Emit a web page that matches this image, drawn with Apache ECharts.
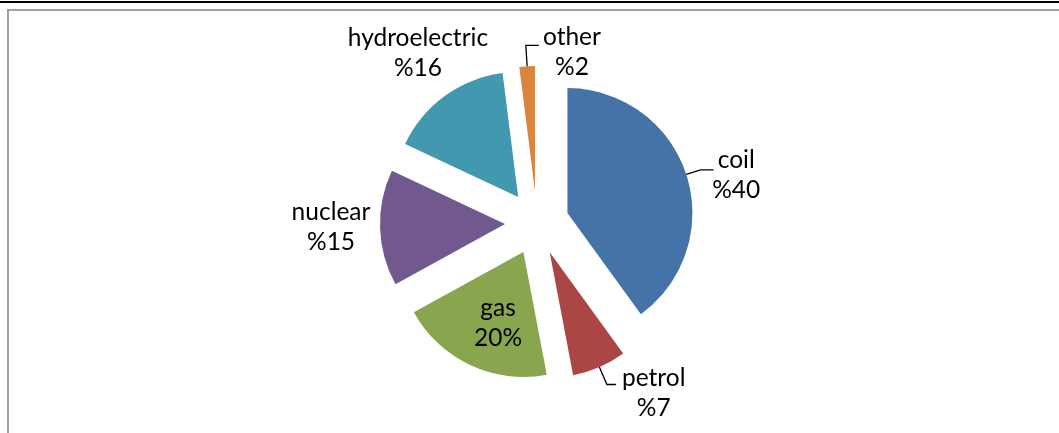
<!DOCTYPE html>
<html>
<head>
<meta charset="utf-8">
<script src="https://cdn.jsdelivr.net/npm/echarts@6/dist/echarts.min.js"></script>
<style>
  html, body { margin: 0; padding: 0; background: #fff; }
  #chart { width: 1059px; height: 433px; }
</style>
</head>
<body>
<div id="chart"></div>
<script>
// Electricity generation by source (percent share)
const categories = ['coil', 'petrol', 'gas', 'nuclear', 'hydroelectric', 'other'];
const shares = [40, 7, 20, 15, 16, 2];
// where the percent sign is written for each label
const percentFirst = [true, true, false, true, true, true];

const colors = ['#4572A7', '#AA4643', '#89A54E', '#71588F', '#4198AF', '#DB843D'];

// pie geometry
const CX = 537, CY = 223, R = 125, EXPLODE = 32;
const FONT = '24.5px Lato, "Noto Sans", sans-serif';
const LINE_H = 30;

// label placement around the pie centre: [angle clockwise from 12 o'clock, distance]
const labelPolar = [[76.4, 205], [145.5, 206], [201.3, 107], [268.9, 206], [325, 207.5], [11.6, 174]];
// leader lines: [slice index, radial length, horizontal length, horizontal direction]
const leaders = [[0, 15, 13, 1], [1, 19, 9, 1], [5, 21, 13, 1]];

const total = shares.reduce((a, b) => a + b, 0);
const dir = deg => { const r = deg * Math.PI / 180; return [Math.sin(r), -Math.cos(r)]; };
let acc = 0;
const midAngles = shares.map(v => { const a0 = acc / total * 360; acc += v; return (a0 + acc / total * 360) / 2; });

const pctText = i => percentFirst[i] ? '%' + shares[i] : shares[i] + '%';

const graphics = [
  // header rule and chart frame
  { type: 'rect', shape: { x: 0, y: 1, width: 1059, height: 2 }, style: { fill: '#000' }, silent: true },
  { type: 'rect', shape: { x: 7, y: 9, width: 1052, height: 2 }, style: { fill: '#a0a0a0' }, silent: true },
  { type: 'rect', shape: { x: 7, y: 9, width: 2, height: 424 }, style: { fill: '#a0a0a0' }, silent: true }
];

leaders.forEach(([i, l1, l2, side]) => {
  const d = dir(midAngles[i]);
  const sx = CX + d[0] * (EXPLODE + R), sy = CY + d[1] * (EXPLODE + R);
  const kx = sx + d[0] * l1, ky = sy + d[1] * l1;
  graphics.push({
    type: 'polyline', z: 10, silent: true,
    shape: { points: [[sx, sy], [kx, ky], [kx + side * l2, ky]] },
    style: { stroke: '#000', lineWidth: 1.3, fill: null }
  });
});

categories.forEach((name, i) => {
  const [ang, dist] = labelPolar[i];
  const d = dir(ang);
  graphics.push({
    type: 'text', z: 10, silent: true,
    style: {
      text: name + '\n' + pctText(i),
      x: CX + d[0] * dist, y: CY + d[1] * dist,
      align: 'center', verticalAlign: 'middle',
      font: FONT, lineHeight: LINE_H, fill: '#000'
    }
  });
});

const chart = echarts.init(document.getElementById('chart'), null, { renderer: 'canvas' });
chart.setOption({
  animation: false,
  backgroundColor: '#fff',
  graphic: graphics,
  series: [{
    type: 'pie',
    center: [CX, CY],
    radius: R,
    startAngle: 90,
    clockwise: true,
    selectedMode: 'multiple',
    selectedOffset: EXPLODE,
    avoidLabelOverlap: false,
    label: { show: false },
    labelLine: { show: false },
    emphasis: { disabled: true },
    itemStyle: { borderWidth: 0 },
    data: categories.map((n, i) => ({
      name: n, value: shares[i], selected: true,
      itemStyle: { color: colors[i] }
    }))
  }]
});
</script>
</body>
</html>
